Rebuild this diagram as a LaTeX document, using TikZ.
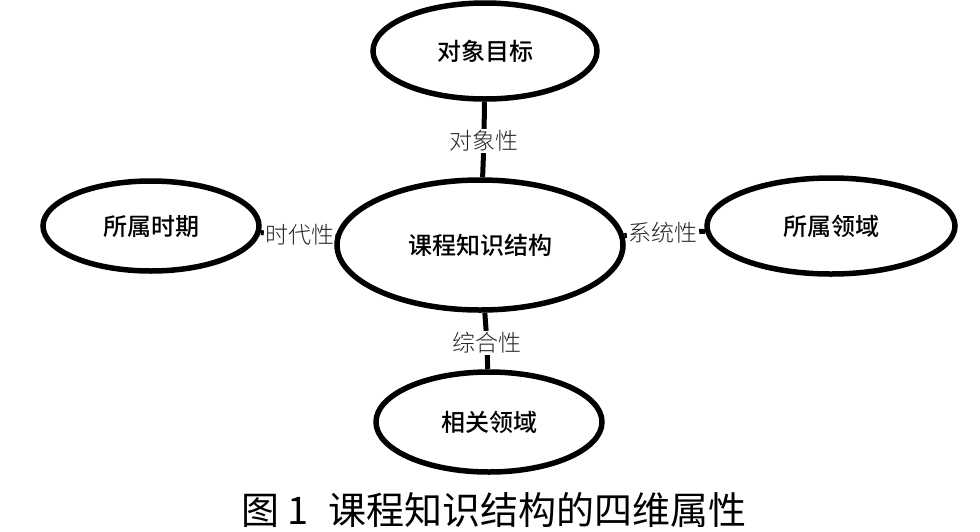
\documentclass[tikz,border=0pt]{standalone}
\usepackage{fontspec}
\usetikzlibrary{shapes.geometric}
\newfontfamily\hei{Noto Sans CJK SC Medium}
\newfontfamily\song{Noto Sans CJK SC Light}
\newfontfamily\capfont{Noto Sans CJK SC}
\begin{document}
\begin{tikzpicture}[x=1pt,y=-1pt,
  oval/.style={ellipse, draw=black, line width=5.5pt, fill=white, inner sep=0pt,
    font=\hei\fontsize{24}{26}\selectfont},
  attr/.style={inner sep=1.5pt, font=\song\fontsize{23}{25}\selectfont, text=black!85},
  link/.style={line width=5pt, black}]
\useasboundingbox[fill=white] (0,0) rectangle (980,531);
\node[oval, minimum width=224pt, minimum height=96pt] (T) at (485,51) {对象目标};
\node[oval, minimum width=286pt, minimum height=130pt] (C) at (480,245) {课程知识结构};
\node[oval, minimum width=216pt, minimum height=90pt] (L) at (151,226) {所属时期};
\node[oval, minimum width=248pt, minimum height=96pt] (R) at (831,226) {所属领域};
\node[oval, minimum width=226pt, minimum height=100pt] (B) at (489,422) {相关领域};
\node[attr] (l1) at (484,141) {对象性};
\node[attr] (l2) at (300,235) {时代性};
\node[attr] (l3) at (663,233) {系统性};
\node[attr] (l4) at (487,343) {综合性};
\draw[link] (T) -- (l1);
\draw[link] (l1) -- (C);
\draw[link] (L) -- (l2);
\draw[link] (l2) -- (C);
\draw[link] (C) -- (l3);
\draw[link] (l3) -- (R);
\draw[link] (C) -- (l4);
\draw[link] (l4) -- (B);
\node[anchor=west, inner sep=0pt, font=\capfont\fontsize{38}{40}\selectfont] (cap) at (241,510)
  {图\kern8pt 1\kern20pt 课程知识结构的四维属性};
\end{tikzpicture}
\end{document}
